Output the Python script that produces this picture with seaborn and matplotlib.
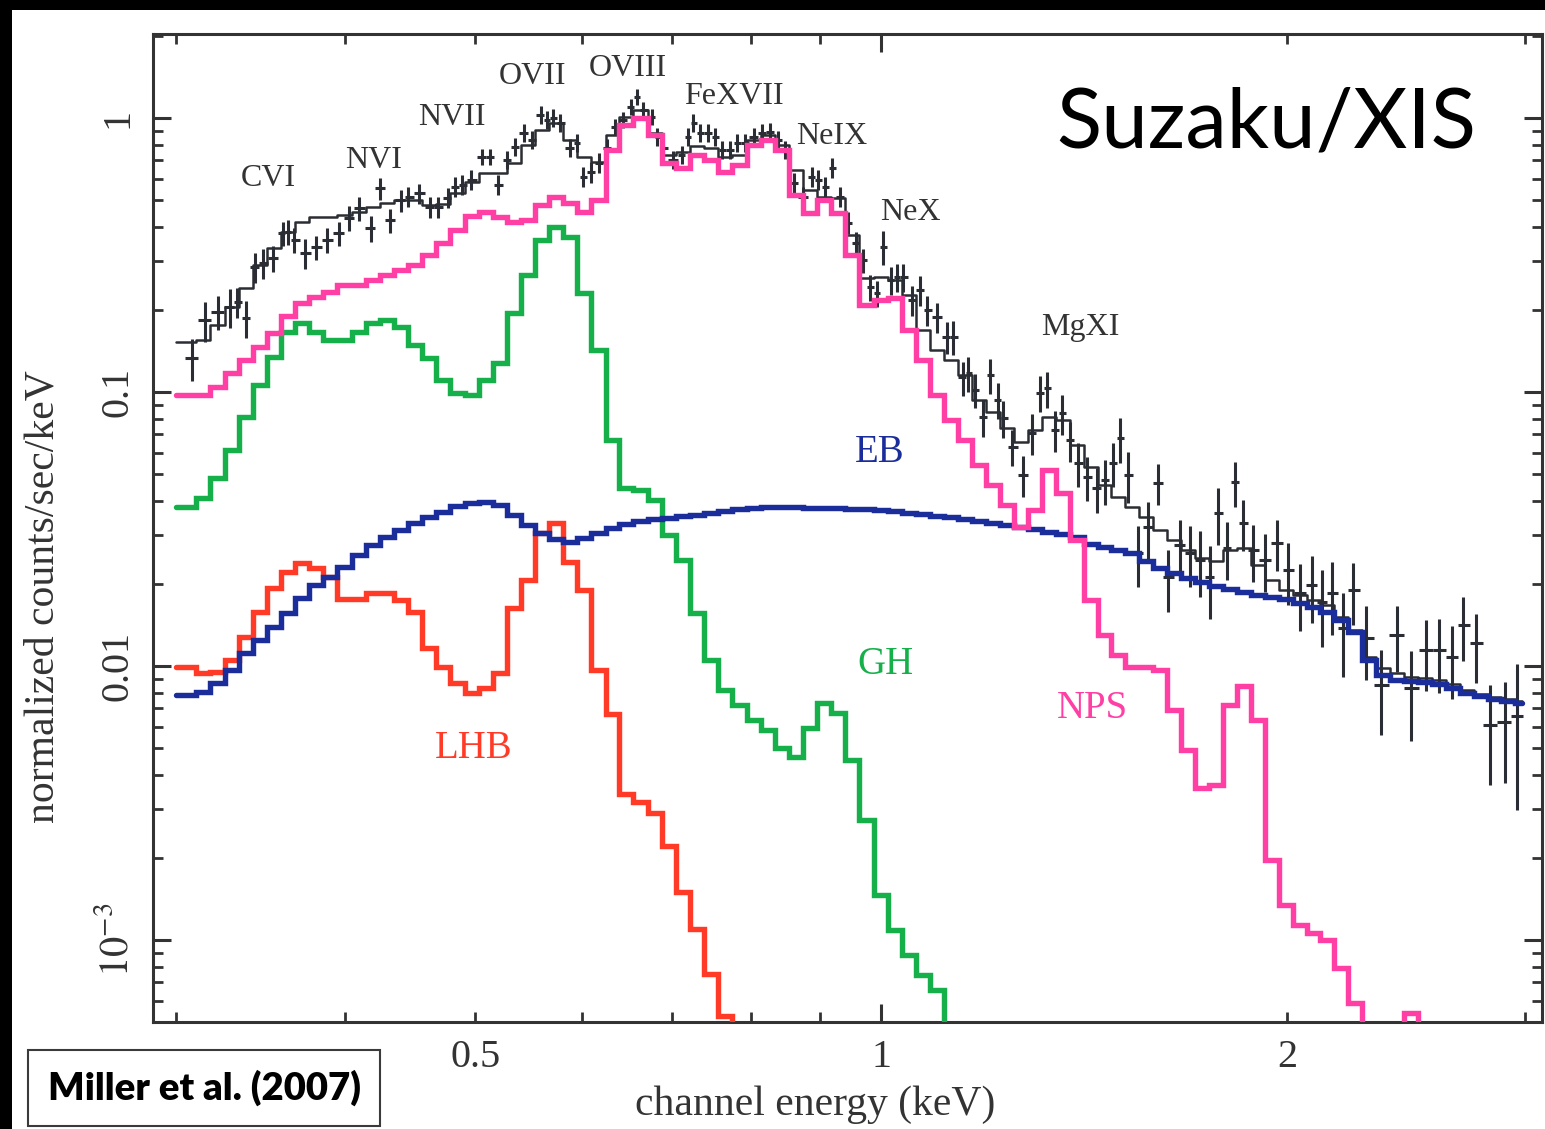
import numpy as np
import pandas as pd
import matplotlib
matplotlib.use("Agg")
import matplotlib.pyplot as plt
import seaborn as sns
from matplotlib.patches import Rectangle
from matplotlib.ticker import FixedLocator, FixedFormatter, NullFormatter, LogLocator

# ---------------- data ----------------
energy = [0.300, 0.307, 0.314, 0.322, 0.330, 0.338, 0.346, 0.354, 0.363, 0.372,
          0.381, 0.390, 0.400, 0.410, 0.420, 0.430, 0.440, 0.451, 0.462, 0.473,
          0.485, 0.497, 0.509, 0.521, 0.534, 0.547, 0.560, 0.574, 0.588, 0.602,
          0.617, 0.632, 0.647, 0.663, 0.679, 0.696, 0.713, 0.730, 0.748, 0.766,
          0.785, 0.804, 0.824, 0.844, 0.864, 0.885, 0.907, 0.929, 0.952, 0.975,
          1.000, 1.024, 1.049, 1.074, 1.100, 1.127, 1.154, 1.182, 1.210, 1.239,
          1.269, 1.300, 1.331, 1.363, 1.396, 1.430, 1.464, 1.499, 1.535, 1.572,
          1.610, 1.649, 1.689, 1.729, 1.771, 1.814, 1.857, 1.902, 1.948, 1.995,
          2.043, 2.092, 2.142, 2.194, 2.247, 2.301, 2.356, 2.413, 2.471, 2.530,
          2.591, 2.654, 2.717, 2.783, 2.850, 2.918, 2.988]

model_total = [0.152, 0.152, 0.155, 0.176, 0.204, 0.240, 0.291, 0.335, 0.384, 0.417,
               0.435, 0.435, 0.443, 0.454, 0.473, 0.490, 0.502, 0.502, 0.482, 0.486,
               0.532, 0.584, 0.630, 0.630, 0.685, 0.797, 0.904, 0.959, 0.831, 0.721,
               0.691, 0.867, 1.008, 1.070, 0.882, 0.733, 0.751, 0.790, 0.777, 0.721,
               0.733, 0.831, 0.867, 0.797, 0.646, 0.546, 0.515, 0.511, 0.374, 0.261,
               0.263, 0.256, 0.226, 0.168, 0.142, 0.131, 0.115, 0.0935, 0.0845, 0.0739,
               0.0657, 0.0727, 0.0811, 0.0790, 0.0641, 0.0532, 0.0458, 0.0414, 0.0380, 0.0350,
               0.0314, 0.0288, 0.0265, 0.0248, 0.0242, 0.0265, 0.0270, 0.0234, 0.0206, 0.0189,
               0.0182, 0.0174, 0.0167, 0.0151, 0.0135, 0.0108, 0.00983, 0.00943, 0.00912, 0.00904,
               0.00889, 0.00860, 0.00818, 0.00790, 0.00770, 0.00758, 0.00745]

nps = [0.0975, 0.0975, 0.0975, 0.104, 0.117, 0.131, 0.146, 0.164, 0.189, 0.211,
       0.222, 0.232, 0.246, 0.246, 0.256, 0.267, 0.279, 0.291, 0.316, 0.350,
       0.390, 0.439, 0.454, 0.435, 0.417, 0.424, 0.482, 0.515, 0.490, 0.454,
       0.502, 0.764, 0.943, 1.000, 0.867, 0.685, 0.657, 0.733, 0.703, 0.635,
       0.674, 0.797, 0.831, 0.764, 0.524, 0.450, 0.502, 0.450, 0.316, 0.208,
       0.217, 0.220, 0.168, 0.131, 0.0975, 0.0790, 0.0668, 0.0541, 0.0458, 0.0387,
       0.0322, 0.0371, 0.0519, 0.0428, 0.0288, 0.0174, 0.0130, 0.0110, 0.00992, 0.00992,
       0.00967, 0.00691, 0.00494, 0.00359, 0.00368, 0.00721, 0.00845, 0.00635, 0.00196, 0.00134,
       0.00113, 0.00106, 0.00100, 0.00079, 0.00059, 0.0003, 0.0003, 0.0003, 0.00054, 0.0003]

gh = [0.0380, 0.0380, 0.0410, 0.0486, 0.0614, 0.0811, 0.106, 0.134, 0.166, 0.179,
      0.166, 0.155, 0.155, 0.166, 0.179, 0.183, 0.173, 0.148, 0.133, 0.111,
      0.0992, 0.0975, 0.111, 0.128, 0.194, 0.267, 0.359, 0.400, 0.368, 0.230,
      0.142, 0.0668, 0.0446, 0.0439, 0.0403, 0.0301, 0.0244, 0.0156, 0.0105, 0.00818,
      0.00721, 0.00635, 0.00584, 0.00502, 0.00465, 0.00594, 0.00733, 0.00674, 0.00454, 0.00274,
      0.00146, 0.00109, 0.000882, 0.000745, 0.000657, 0.0004]

lhb = [0.0099, 0.0099, 0.0094, 0.0095, 0.0105, 0.0128, 0.0157, 0.0193, 0.0220, 0.0238,
       0.0228, 0.0211, 0.0176, 0.0176, 0.0185, 0.0185, 0.0174, 0.0157, 0.0116, 0.0099,
       0.0087, 0.0080, 0.0083, 0.0094, 0.0163, 0.0206, 0.0306, 0.0332, 0.0240, 0.0189,
       0.0097, 0.0067, 0.0034, 0.0032, 0.0029, 0.0022, 0.0015, 0.0011, 0.00075, 0.00053,
       0.0003]

eb = [0.00784, 0.00784, 0.00804, 0.00867, 0.00967, 0.0112, 0.0124, 0.0139, 0.0156, 0.0177,
      0.0198, 0.0211, 0.0230, 0.0254, 0.0276, 0.0296, 0.0314, 0.0332, 0.0350, 0.0365,
      0.0384, 0.0394, 0.0397, 0.0387, 0.0356, 0.0327, 0.0306, 0.0291, 0.0284, 0.0293,
      0.0306, 0.0319, 0.0330, 0.0338, 0.0344, 0.0347, 0.0353, 0.0356, 0.0362, 0.0368,
      0.0374, 0.0377, 0.0381, 0.0381, 0.0381, 0.0377, 0.0377, 0.0377, 0.0374, 0.0374,
      0.0371, 0.0368, 0.0362, 0.0359, 0.0353, 0.0350, 0.0344, 0.0338, 0.0332, 0.0327,
      0.0322, 0.0316, 0.0308, 0.0303, 0.0296, 0.0279, 0.0272, 0.0265, 0.0259, 0.0242,
      0.0228, 0.0219, 0.0210, 0.0203, 0.0196, 0.0191, 0.0186, 0.0182, 0.0179, 0.0176,
      0.0170, 0.0164, 0.0157, 0.0147, 0.0133, 0.0105, 0.00927, 0.00889, 0.00882, 0.00874,
      0.00860, 0.00831, 0.00797, 0.00777, 0.00758, 0.00745, 0.00733]

data_energy = [0.308, 0.315, 0.322, 0.329, 0.333, 0.338, 0.343, 0.348, 0.354, 0.360,
               0.363, 0.367, 0.374, 0.381, 0.388, 0.396, 0.403, 0.410, 0.418, 0.425,
               0.432, 0.440, 0.446, 0.454, 0.463, 0.469, 0.477, 0.483, 0.489, 0.496,
               0.506, 0.513, 0.520, 0.528, 0.535, 0.543, 0.551, 0.559, 0.565, 0.571,
               0.578, 0.588, 0.595, 0.601, 0.609, 0.617, 0.626, 0.635, 0.643, 0.652,
               0.659, 0.666, 0.676, 0.682, 0.689, 0.701, 0.712, 0.719, 0.725, 0.734,
               0.744, 0.753, 0.762, 0.773, 0.782, 0.793, 0.804, 0.816, 0.827, 0.839,
               0.849, 0.861, 0.875, 0.889, 0.898, 0.909, 0.920, 0.932, 0.945, 0.957,
               0.970, 0.981, 0.993, 1.003, 1.016, 1.028, 1.038, 1.054, 1.069, 1.082,
               1.100, 1.119, 1.131, 1.150, 1.160, 1.174, 1.190, 1.205, 1.221, 1.232,
               1.251, 1.274, 1.294, 1.312, 1.328, 1.346, 1.362, 1.381, 1.400, 1.422,
               1.446, 1.466, 1.486, 1.504, 1.525, 1.551, 1.578, 1.605, 1.632, 1.666,
               1.695, 1.724, 1.754, 1.778, 1.805, 1.830, 1.855, 1.887, 1.926, 1.966,
               2.004, 2.045, 2.087, 2.123, 2.160, 2.201, 2.239, 2.289, 2.348, 2.413,
               2.472, 2.536, 2.593, 2.651, 2.701, 2.762, 2.828, 2.902, 2.962]

data_counts = [0.133, 0.183, 0.196, 0.204, 0.213, 0.186, 0.286, 0.296, 0.308, 0.380,
               0.384, 0.359, 0.322, 0.338, 0.359, 0.380, 0.432, 0.469, 0.397, 0.555,
               0.424, 0.502, 0.515, 0.532, 0.473, 0.473, 0.511, 0.560, 0.570, 0.594,
               0.721, 0.721, 0.570, 0.703, 0.784, 0.882, 0.831, 1.026, 0.983, 1.000,
               0.959, 0.777, 0.811, 0.609, 0.635, 0.685, 0.777, 0.927, 0.983, 1.097,
               1.193, 1.070, 1.008, 0.852, 0.777, 0.703, 0.733, 0.852, 0.959, 0.882,
               0.882, 0.852, 0.764, 0.764, 0.811, 0.811, 0.852, 0.882, 0.889, 0.831,
               0.764, 0.579, 0.515, 0.609, 0.594, 0.560, 0.657, 0.515, 0.414, 0.350,
               0.303, 0.242, 0.230, 0.338, 0.256, 0.263, 0.263, 0.217, 0.236, 0.199,
               0.188, 0.159, 0.159, 0.113, 0.117, 0.102, 0.0811, 0.115, 0.0935, 0.0804,
               0.0630, 0.0498, 0.0709, 0.0992, 0.103, 0.0727, 0.0838, 0.0668, 0.0551, 0.0490,
               0.0446, 0.0477, 0.0551, 0.0679, 0.0498, 0.0259, 0.0322, 0.0466, 0.0211, 0.0276,
               0.0259, 0.0244, 0.0211, 0.0362, 0.0270, 0.0469, 0.0332, 0.0265, 0.0244, 0.0281,
               0.0224, 0.0185, 0.0198, 0.0171, 0.0185, 0.0138, 0.0189, 0.0127, 0.00852, 0.0130,
               0.00831, 0.0114, 0.0114, 0.0108, 0.0141, 0.0121, 0.00609, 0.00625, 0.00657]

data_sigma = [0.0234, 0.0308, 0.0280, 0.0327, 0.0269, 0.0281, 0.0360, 0.0373, 0.0336, 0.0384,
              0.0387, 0.0362, 0.0405, 0.0342, 0.0362, 0.0384, 0.0436, 0.0474, 0.0432, 0.0513,
              0.0429, 0.0464, 0.0433, 0.0447, 0.0398, 0.0398, 0.0429, 0.0470, 0.0478, 0.0499,
              0.0484, 0.0484, 0.0478, 0.0531, 0.0592, 0.0666, 0.0628, 0.0775, 0.0743, 0.0756,
              0.0725, 0.0588, 0.0613, 0.0512, 0.0534, 0.0575, 0.0588, 0.0623, 0.0661, 0.0737,
              0.0802, 0.0719, 0.0678, 0.0644, 0.0588, 0.0531, 0.0554, 0.0644, 0.0725, 0.0666,
              0.0666, 0.0644, 0.0578, 0.0578, 0.0613, 0.0613, 0.0644, 0.0666, 0.0672, 0.0628,
              0.0578, 0.0487, 0.0433, 0.0512, 0.0499, 0.0470, 0.0552, 0.0433, 0.0382, 0.0323,
              0.0306, 0.0264, 0.0251, 0.0483, 0.0301, 0.0309, 0.0309, 0.0273, 0.0297, 0.0251,
              0.0237, 0.0213, 0.0227, 0.0162, 0.0168, 0.0145, 0.0123, 0.0165, 0.0141, 0.0122,
              0.0095, 0.0084, 0.0119, 0.0150, 0.0156, 0.0122, 0.0141, 0.0112, 0.0102, 0.0091,
              0.0083, 0.0089, 0.0102, 0.0126, 0.0106, 0.0065, 0.0076, 0.0078, 0.0053, 0.0065,
              0.0065, 0.0066, 0.0062, 0.0086, 0.0064, 0.0087, 0.0070, 0.0063, 0.0058, 0.0059,
              0.0057, 0.0051, 0.0055, 0.0054, 0.0055, 0.0047, 0.0048, 0.0038, 0.0029, 0.0035,
              0.0030, 0.0033, 0.0034, 0.0032, 0.0037, 0.0034, 0.0024, 0.0025, 0.0036]

x_tick_major = [1.0]
x_tick_major_labels = ["1"]
x_tick_minor = [0.3, 0.4, 0.5, 0.6, 0.7, 0.8, 0.9, 2.0, 3.0]
x_tick_minor_labels = ["", "", "0.5", "", "", "", "", "2", ""]
y_tick_major = [1e-3, 1e-2, 1e-1, 1.0]
y_tick_major_labels = [r"$10^{-3}$", "0.01", "0.1", "1"]

line_labels = ["CVI", "NVI", "NVII", "OVII", "OVIII", "FeXVII", "NeIX", "NeX", "MgXI"]
component_labels = ["EB", "GH", "LHB", "NPS"]

# ---------------- style ----------------
sns.set_theme(style="ticks")
plt.rcParams["font.family"] = ["Liberation Serif", "DejaVu Serif"]
plt.rcParams["mathtext.fontset"] = "stix"

W, H = 1545, 1129
fig = plt.figure(figsize=(W / 100, H / 100), dpi=100)
fig.patch.set_facecolor("white")

def fx(px):
    return px / W

def fy(py):
    return 1 - py / H

ax_l, ax_r, ax_t, ax_b = 153, 1542, 34, 1022
ax = fig.add_axes([fx(ax_l), fy(ax_b), (ax_r - ax_l) / W, (ax_b - ax_t) / H])
ax.set_facecolor("white")
ax.set_xscale("log")
ax.set_yscale("log")

ink = "#2a2d33"
col_nps = "#ff3fa4"
col_gh = "#16b04a"
col_lhb = "#ff3a26"
col_eb = "#1b2c9b"

# data crosses
de = np.array(data_energy)
mids = np.sqrt(de[1:] * de[:-1])
left_edges = np.r_[de[0] ** 2 / mids[0], mids]
right_edges = np.r_[mids, de[-1] ** 2 / mids[-1]]
ax.errorbar(de, data_counts, yerr=data_sigma,
            xerr=[de - left_edges, right_edges - de],
            fmt="none", ecolor=ink, elinewidth=2.2, capsize=0, zorder=2)

# total model (thin black step line)
sns.lineplot(x=energy[:len(model_total)], y=model_total, ax=ax, color=ink,
             lw=1.8, drawstyle="steps-mid", estimator=None, sort=False, zorder=2.5)

comp_series = [(lhb, col_lhb, 3), (gh, col_gh, 3.2), (eb, col_eb, 3.4), (nps, col_nps, 3.6)]
for vals, c, z in comp_series:
    sns.lineplot(x=energy[:len(vals)], y=vals, ax=ax, color=c, lw=3.9,
                 drawstyle="steps-mid", estimator=None, sort=False, zorder=z,
                 solid_joinstyle="miter")

ax.set_xlim(0.2883, 3.091)
ax.set_ylim(5.02e-4, 2.026)

# ticks
ax.xaxis.set_major_locator(FixedLocator(x_tick_major))
ax.xaxis.set_major_formatter(FixedFormatter(x_tick_major_labels))
ax.xaxis.set_minor_locator(FixedLocator(x_tick_minor))
ax.xaxis.set_minor_formatter(FixedFormatter(x_tick_minor_labels))
ax.yaxis.set_major_locator(FixedLocator(y_tick_major))
ax.yaxis.set_major_formatter(FixedFormatter(y_tick_major_labels))
ax.yaxis.set_minor_locator(LogLocator(base=10, subs=np.arange(2, 10)))
ax.yaxis.set_minor_formatter(NullFormatter())

ax.tick_params(which="both", direction="in", top=True, right=True,
               color="#333333", labelcolor="#333333", labelsize=29, pad=12)
ax.tick_params(which="major", length=13, width=2.2)
ax.tick_params(which="minor", length=7, width=2.0)
for lab in ax.get_yticklabels():
    lab.set_rotation(90)
    lab.set_va("center")
for sp in ax.spines.values():
    sp.set_color("#333333")
    sp.set_linewidth(2.2)

ax.set_xlabel("channel energy (keV)", fontsize=30, color="#333333", va="center")
ax.xaxis.set_label_coords((815 - ax_l) / (ax_r - ax_l), (ax_b - 1105) / (ax_b - ax_t))
ax.set_ylabel("normalized counts/sec/keV", fontsize=30, color="#333333",
              va="center", ha="center")
ax.yaxis.set_label_coords((43 - ax_l) / (ax_r - ax_l), (ax_b - 597) / (ax_b - ax_t))

# line identifications
line_pos = [(268, 178), (374, 160), (452, 117), (532, 77), (628, 69),
            (734, 96), (832, 137), (910, 213), (1080, 328)]
for txt, (px, py) in zip(line_labels, line_pos):
    fig.text(fx(px), fy(py), txt, fontsize=23, color="#333333",
             ha="center", va="center")

comp_pos = [(880, 452), (885, 665), (474, 748), (1092, 708)]
comp_cols = [col_eb, col_gh, col_lhb, col_nps]
for txt, (px, py), c in zip(component_labels, comp_pos, comp_cols):
    fig.text(fx(px), fy(py), txt, fontsize=28, color=c, ha="center", va="center")

fig.text(fx(1266), fy(125), "Suzaku/XIS", fontsize=60, family=["Lato", "DejaVu Sans"],
         color="black", ha="center", va="center")

# black frame bands
fig.add_artist(Rectangle((0, fy(10)), 1, 10 / H, transform=fig.transFigure,
                         facecolor="black", edgecolor="none", zorder=10))
fig.add_artist(Rectangle((0, 0), 12 / W, 1, transform=fig.transFigure,
                         facecolor="black", edgecolor="none", zorder=10))

# citation box
fig.add_artist(Rectangle((fx(28), fy(1126)), 352 / W, 76 / H, transform=fig.transFigure,
                         facecolor="white", edgecolor="#3a3a3a", linewidth=1.5, zorder=11))
fig.text(fx(204), fy(1088), "Miller et al. (2007)", fontsize=27.5, fontweight="heavy",
         family=["Lato", "DejaVu Sans"], color="black", ha="center", va="center", zorder=12)

fig.savefig("out.png", dpi=100, facecolor="white")
